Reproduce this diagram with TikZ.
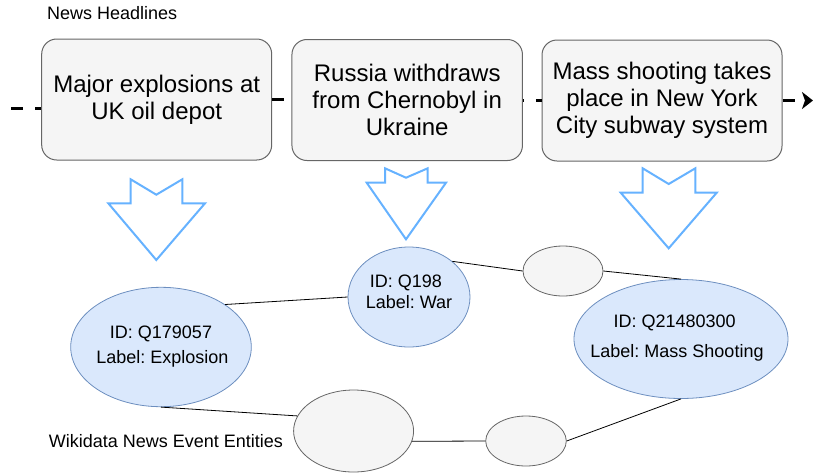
\documentclass[tikz,border=0pt]{standalone}
\usepackage{fontspec}
\setmainfont{Liberation Sans}
\frenchspacing
\usetikzlibrary{shapes.geometric,arrows.meta}
\definecolor{boxfill}{HTML}{F5F5F5}
\definecolor{boxdraw}{HTML}{666666}
\definecolor{entfill}{HTML}{DAE8FC}
\definecolor{entdraw}{HTML}{6C8EBF}
\definecolor{arrblue}{HTML}{66B2FF}
\begin{document}
\begin{tikzpicture}[x=1pt,y=-1pt,
  headbox/.style={draw=boxdraw, fill=boxfill, rounded corners=15pt, line width=1pt, minimum height=121pt, inner sep=0pt, align=center, font=\fontsize{24}{27}\selectfont},
  entity/.style={ellipse, draw=entdraw, fill=entfill, line width=0.8pt, inner sep=0pt},
  blank/.style={ellipse, draw=boxdraw, fill=boxfill, line width=0.8pt, inner sep=0pt},
  smalltext/.style={font=\fontsize{18}{21}\selectfont, inner sep=0pt},
  timeline/.style={line width=3pt, dash pattern=on 12pt off 12pt},
  link/.style={line width=0.8pt},
  blockarrow/.style={draw=arrblue, line width=2pt, fill=white, line join=miter}]
\useasboundingbox (0,0) rectangle (817,472);

% headline boxes
\node[headbox, minimum width=230pt] (h1) at (156.7,99.5) {Major explosions at\\UK oil depot};
\node[headbox, minimum width=230.5pt] (h2) at (407.2,100) {Russia withdraws\\from Chernobyl in\\Ukraine};
\node[headbox, minimum width=240pt] (h3) at (662,100.5) {Mass shooting takes\\place in New York\\City subway system};

% timeline
\coordinate (tl0) at (11,108);
\coordinate (tlend) at (813,100.5);
\draw[timeline] (tl0) -- (tl0 -| h1.west);
\draw[timeline] (h1.east) -- (h1.east -| h2.west);
\draw[timeline, dash phase=11pt] (h2.east) -- (h2.east -| h3.west);
\draw[timeline, -{Stealth[length=11pt,width=17pt,inset=3pt]}] (h3.east) -- (tlend);

% block arrows
\draw[blockarrow] (130.7,179.3) -- (156.3,194.7) -- (182.3,179.3) -- (182.3,203.3) -- (205,203.3) -- (156.3,260) -- (108.3,203.3) -- (130.7,203.3) -- cycle;
\draw[blockarrow] (385,168.3) -- (406,177.7) -- (427.7,168.3) -- (427.7,182.7) -- (446,182.7) -- (406,239.3) -- (366.7,182.7) -- (385,182.7) -- cycle;
\draw[blockarrow] (642.7,168.3) -- (668.7,184) -- (695.3,168.3) -- (695.3,192.7) -- (716.7,192.7) -- (668.7,248.3) -- (620.7,192.7) -- (642.7,192.7) -- cycle;

% entity ellipses
\node[entity, minimum width=180.6pt, minimum height=119.4pt] (e1) at (161,347) {};
\node[entity, minimum width=122pt, minimum height=100pt] (e2) at (409,297) {};
\node[blank, minimum width=80pt, minimum height=50pt] (g1) at (563,271) {};
\node[entity, minimum width=214pt, minimum height=119pt] (e3) at (681,339) {};
\node[blank, minimum width=120pt, minimum height=82pt] (g2) at (353.6,431) {};
\node[blank, minimum width=80.6pt, minimum height=50pt] (g3) at (526,441) {};

% links
\draw[link] (e1.north east) -- (e2.west);
\draw[link] (e2.north east) -- (g1.west);
\draw[link] (g1.east) -- (e3.north);
\draw[link] (e1.south) -- (g2.165);
\draw[link] (g3.west) -- (g2.-10);
\draw[link] (g3.east) -- (e3.south);

% texts
\node[smalltext, anchor=base west] (title1) at (47,19.5) {News Headlines};
\node[smalltext, anchor=base west] (title2) at (48.7,447) {Wikidata News Event Entities};
\node[smalltext, anchor=base] (e1a) at (161,338) {ID: Q179057};
\node[smalltext, anchor=base] (e1b) at (162.5,363.3) {Label: Explosion};
\node[smalltext, anchor=base] (e2a) at (406,287) {ID: Q198};
\node[smalltext, anchor=base] (e2b) at (409,308.3) {Label: War};
\node[smalltext, anchor=base] (e3a) at (674.6,327.3) {ID: Q21480300};
\node[smalltext, anchor=base] (e3b) at (677,357) {Label: Mass Shooting};
\end{tikzpicture}
\end{document}
